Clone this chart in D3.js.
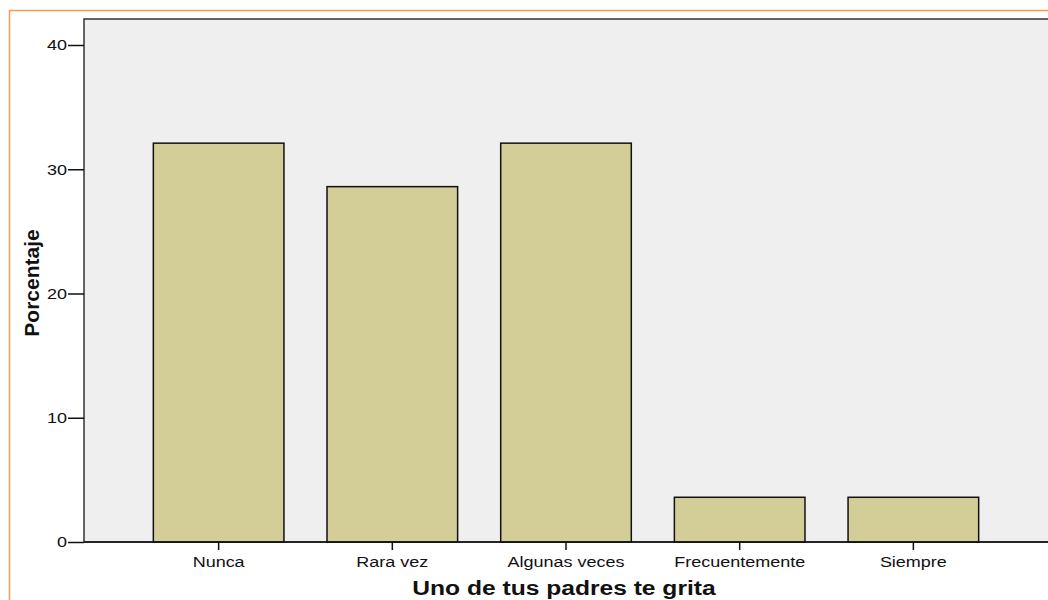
<!DOCTYPE html>
<html><head><meta charset="utf-8">
<script src="https://cdn.jsdelivr.net/npm/d3@7"></script>
<style>body{margin:0;background:#fff}svg{display:block}text{font-family:"Liberation Sans",Arial,sans-serif}</style>
</head><body><svg id="c" width="1048" height="600"></svg>
<script>
const categories = ["Nunca","Rara vez","Algunas veces","Frecuentemente","Siempre"];
const values = [32.1, 28.6, 32.1, 3.6, 3.6];
const yTicks = [0,10,20,30,40];
const xTitle = "Uno de tus padres te grita";
const yTitle = "Porcentaje";

const svg = d3.select("#c");
const SX = 1.2; // horizontal stretch of text as in the reference
svg.append("rect").attr("x",9.5).attr("y",10.5).attr("width",1100).attr("height",700)
  .attr("fill","none").attr("stroke","#f79a4e").attr("stroke-width",1.5);

const L=84, T=19, R=1060, B=542;
const y = d3.scaleLinear().domain([0,40]).range([B,45]);
const x = d3.scaleBand().domain(categories).range([131.8,1000.2]).paddingInner(0.248).paddingOuter(0.124);

svg.append("rect").attr("x",L).attr("y",T).attr("width",R-L).attr("height",B-T)
  .attr("fill","#efefef").attr("stroke","#333").attr("stroke-width",1.5);

svg.selectAll("rect.bar").data(values).enter().append("rect").attr("class","bar")
  .attr("x",(d,i)=>x(categories[i])).attr("width",x.bandwidth())
  .attr("y",d=>y(d)).attr("height",d=>B-y(d))
  .attr("fill","#d3ce97").attr("stroke","#111").attr("stroke-width",1.5);

const yAxis = svg.append("g").attr("transform",`translate(${L},0)`)
  .call(d3.axisLeft(y).tickValues(yTicks).tickSize(16).tickPadding(1).tickFormat(d3.format("d")));
yAxis.select(".domain").remove();
yAxis.selectAll("line").attr("stroke","#111").attr("stroke-width",1.5);
yAxis.selectAll("text").attr("font-size",15).attr("fill","#111").style("font-family","Liberation Sans")
  .attr("x",-17/SX).attr("transform",`scale(${SX},1)`);

const xAxis = svg.append("g").attr("transform",`translate(0,${B})`)
  .call(d3.axisBottom(x).tickSize(8).tickPadding(6));
xAxis.select(".domain").remove();
xAxis.selectAll("line").attr("stroke","#111").attr("stroke-width",1.5);
xAxis.selectAll("text").attr("font-size",15).attr("fill","#111").style("font-family","Liberation Sans")
  .attr("transform",`scale(${SX},1)`);

svg.append("line").attr("x1",L).attr("x2",R).attr("y1",B).attr("y2",B).attr("stroke","#111").attr("stroke-width",1.5);

svg.append("text").attr("transform",`translate(564,595) scale(1.23,1)`).attr("text-anchor","middle")
  .attr("font-size",20).attr("font-weight","bold").attr("fill","#111").text(xTitle);
svg.append("text").attr("transform","translate(39,283) rotate(-90)").attr("text-anchor","middle")
  .attr("font-size",21).attr("font-weight","bold").attr("fill","#111").text(yTitle);
</script></body></html>
